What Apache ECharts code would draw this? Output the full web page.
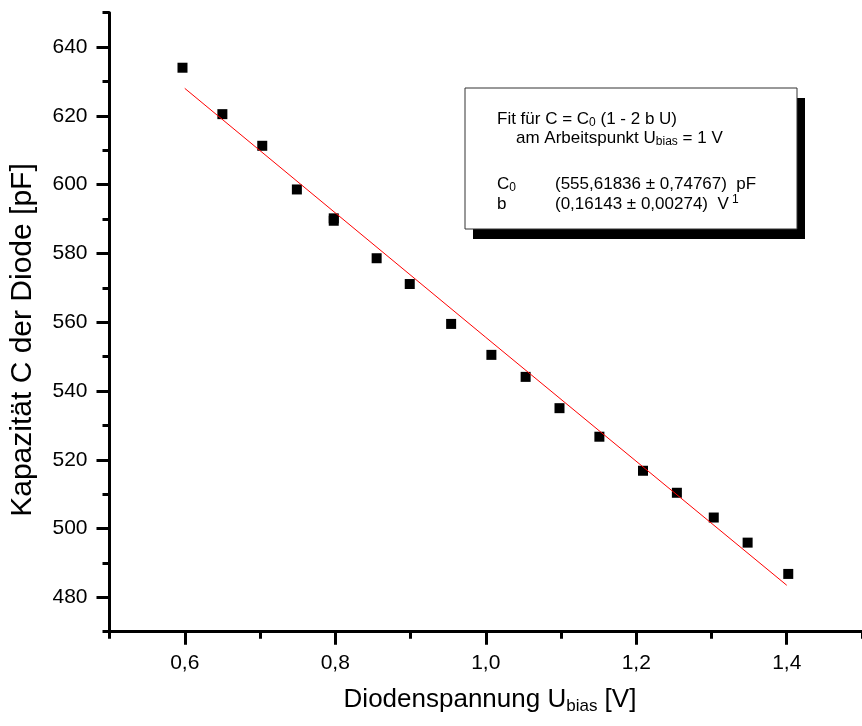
<!DOCTYPE html>
<html>
<head>
<meta charset="utf-8">
<script src="https://cdn.jsdelivr.net/npm/echarts@6/dist/echarts.min.js"></script>
<style>
  html, body { margin: 0; padding: 0; background: #ffffff; }
  #chart { width: 862px; height: 726px; }
</style>
</head>
<body>
<div id="chart"></div>
<script>
// Measured diode capacitance vs. bias voltage
const voltage = [0.597, 0.650, 0.703, 0.749, 0.798, 0.798, 0.855, 0.899, 0.954, 1.0075, 1.053, 1.098, 1.151, 1.209, 1.254, 1.303, 1.348, 1.402];
const capacitance = [634.0, 620.5, 611.3, 598.6, 590.2, 589.5, 578.6, 571.1, 559.5, 550.5, 544.1, 535.0, 526.7, 516.8, 510.4, 503.2, 495.9, 486.8];

// Linear fit curve C = C0 (1 - 2 b U), operating point U_bias = 1 V
const fitVoltage = [0.6, 1.0, 1.4];
const fitCapacitance = [628.0, 555.6, 483.5];

// Labelled (major) tick positions
const xMajorTicks = [0.6, 0.8, 1.0, 1.2, 1.4];
const yMajorTicks = [480, 500, 520, 540, 560, 580, 600, 620, 640];

const FONT = "'Liberation Sans', Arial, sans-serif";
const X_MIN = 0.5, X_MAX = 1.5, Y_MIN = 470, Y_MAX = 650;
const gridRect = { left: 109.5, top: 12.7, width: 761, height: 619 };

const chart = echarts.init(document.getElementById('chart'), null, { renderer: 'canvas' });

const axisLineStyle = { color: '#000', width: 3 };
const tickStyle = { color: '#000', width: 3 };

function richLine(size) {
  return {
    n: { fontSize: size, fontFamily: FONT, fill: '#000', lineHeight: 20 },
    sub: { fontSize: Math.round(size * 0.68), fontFamily: FONT, fill: '#000', lineHeight: 7, verticalAlign: 'bottom' },
    sup: { fontSize: Math.round(size * 0.68), fontFamily: FONT, fill: '#000', lineHeight: 10, verticalAlign: 'top' }
  };
}

const option = {
  animation: false,
  backgroundColor: '#ffffff',
  grid: [
    Object.assign({}, gridRect),
    Object.assign({}, gridRect)
  ],
  xAxis: [
    {
      // minor ticks + axis line
      gridIndex: 0, type: 'value', position: 'bottom',
      min: X_MIN, max: X_MAX, interval: 0.1,
      axisLine: { show: true, onZero: false, lineStyle: axisLineStyle },
      axisTick: { show: true, inside: false, length: 7, lineStyle: tickStyle },
      axisLabel: { show: false },
      splitLine: { show: false }
    },
    {
      // major ticks + labels
      gridIndex: 1, type: 'value', position: 'bottom',
      min: X_MIN, max: X_MAX,
      axisLine: { show: false },
      axisTick: { show: true, inside: false, length: 13, customValues: xMajorTicks, lineStyle: tickStyle },
      axisLabel: {
        show: true, customValues: xMajorTicks, margin: 21,
        color: '#000', fontSize: 21, fontFamily: FONT,
        formatter: v => v.toFixed(1).replace('.', ',')
      },
      splitLine: { show: false }
    }
  ],
  yAxis: [
    {
      gridIndex: 0, type: 'value', position: 'left',
      min: Y_MIN, max: Y_MAX, interval: 10,
      axisLine: { show: true, onZero: false, lineStyle: axisLineStyle },
      axisTick: { show: true, inside: false, length: 7, lineStyle: tickStyle },
      axisLabel: { show: false },
      splitLine: { show: false }
    },
    {
      gridIndex: 1, type: 'value', position: 'left',
      min: Y_MIN, max: Y_MAX,
      axisLine: { show: false },
      axisTick: { show: true, inside: false, length: 13, customValues: yMajorTicks, lineStyle: tickStyle },
      axisLabel: {
        show: true, customValues: yMajorTicks, margin: 22,
        color: '#000', fontSize: 21, fontFamily: FONT,
        formatter: v => String(v)
      },
      splitLine: { show: false }
    }
  ],
  series: [
    {
      type: 'scatter',
      xAxisIndex: 0, yAxisIndex: 0,
      symbol: 'rect', symbolSize: 10,
      itemStyle: { color: '#000', opacity: 1 },
      data: voltage.map((v, i) => [v, capacitance[i]]),
      z: 2
    },
    {
      type: 'line',
      xAxisIndex: 0, yAxisIndex: 0,
      showSymbol: false, symbol: 'none',
      lineStyle: { color: '#ff0000', width: 1 },
      data: fitVoltage.map((v, i) => [v, fitCapacitance[i]]),
      z: 3
    }
  ],
  graphic: [
    // axis titles
    {
      type: 'text', x: 490, y: 700,
      style: {
        text: '{n|Diodenspannung U}{sub|bias}{n| [V]}',
        align: 'center', verticalAlign: 'middle',
        rich: {
          n: { fontSize: 26, fontFamily: FONT, fill: '#000', lineHeight: 30 },
          sub: { fontSize: 17, fontFamily: FONT, fill: '#000', lineHeight: 18, verticalAlign: 'bottom' }
        }
      }
    },
    {
      type: 'text', x: 23, y: 340, rotation: Math.PI / 2,
      style: {
        text: 'Kapazität C der Diode [pF]',
        align: 'center', verticalAlign: 'middle',
        fontSize: 30, fontFamily: FONT, fill: '#000'
      }
    },
    // fit result box: shadow, frame, text
    {
      type: 'rect', shape: { x: 473, y: 98, width: 332, height: 141 },
      style: { fill: '#000' }, z: 10
    },
    {
      type: 'rect', shape: { x: 465, y: 88, width: 332, height: 141 },
      style: { fill: '#fff', stroke: '#333', lineWidth: 1 }, z: 11
    },
    {
      type: 'text', x: 497, y: 109, z: 12,
      style: { text: '{n|Fit für C = C}{sub|0}{n| (1 - 2 b U)}', rich: richLine(17) }
    },
    {
      type: 'text', x: 516, y: 128, z: 12,
      style: { text: '{n|am Arbeitspunkt U}{sub|bias}{n| = 1 V}', rich: richLine(17) }
    },
    {
      type: 'text', x: 497, y: 174, z: 12,
      style: { text: '{n|C}{sub|0}', rich: richLine(17) }
    },
    {
      type: 'text', x: 555, y: 174, z: 12,
      style: { text: '{n|(555,61836 ± 0,74767)  pF}', rich: richLine(17) }
    },
    {
      type: 'text', x: 497, y: 194, z: 12,
      style: { text: '{n|b}', rich: richLine(17) }
    },
    {
      type: 'text', x: 555, y: 194, z: 12,
      style: { text: '{n|(0,16143 ± 0,00274)  V}{sup| 1}', rich: richLine(17) }
    }
  ]
};

chart.setOption(option);
</script>
</body>
</html>
